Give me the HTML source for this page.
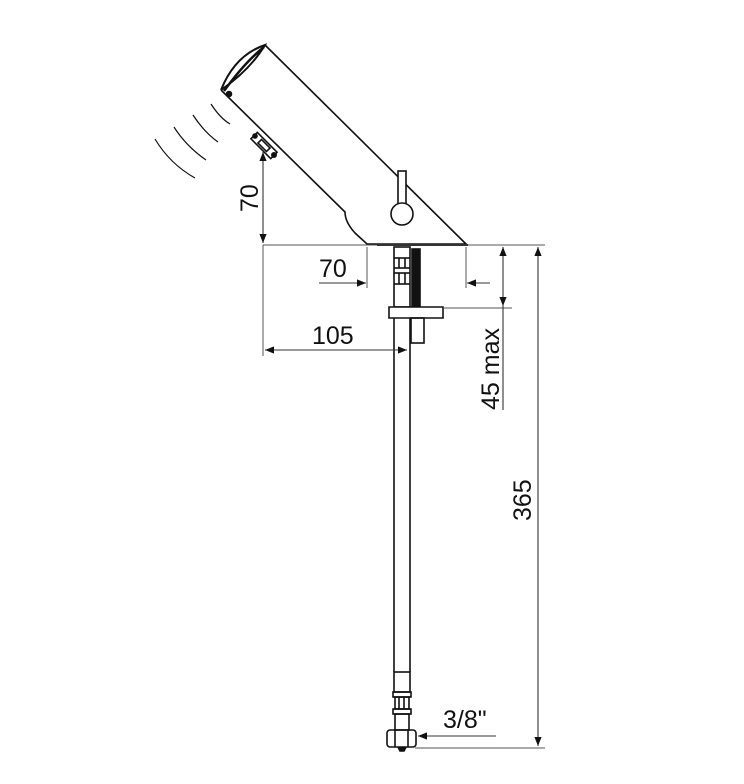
<!DOCTYPE html>
<html><head><meta charset="utf-8"><style>
html,body{margin:0;padding:0;background:#fff;}
svg{display:block;}
text{font-family:"Liberation Sans",sans-serif;font-size:25px;fill:#111;}
</style></head><body>
<svg width="744" height="784" viewBox="0 0 744 784" xmlns="http://www.w3.org/2000/svg">
<defs>
<marker id="a" viewBox="0 0 10 10" refX="10" refY="5" markerWidth="14" markerHeight="9" markerUnits="userSpaceOnUse" orient="auto-start-reverse"><path d="M0,1 L10,5 L0,9 z" fill="#111"/></marker>
</defs>
<g fill="none" stroke="#111" stroke-width="1.6">
<path d="M265,45 L466,244 L367,244 L355,233 Q345,222 345,212 L221,90"/>
<path d="M221,90 Q235,55 265,45 Q250,70 221,90" stroke-width="2"/>
<path d="M224,91 Q245,62 264,47" stroke-width="2.5"/>
<circle cx="229" cy="94" r="2.5" fill="#111"/>
<rect x="250" y="141" width="28" height="9" transform="rotate(45 264 145.5)" fill="#fff"/>
<rect x="258" y="143" width="12" height="5" transform="rotate(45 264 145.5)"/>
<circle cx="255" cy="136" r="2" fill="#111"/><circle cx="274" cy="155" r="2.2" fill="#111"/>
<path d="M211,104 Q220,118 230,124" stroke-width="1.2"/>
<path d="M193,115 Q204,132 218,142" stroke-width="1.2"/>
<path d="M174,127 Q186,146 206,160" stroke-width="1.2"/>
<path d="M155,139 Q170,164 195,178" stroke-width="1.2"/>
<rect x="398" y="171" width="8" height="34" fill="#fff"/>
<circle cx="402" cy="214" r="11" fill="#fff"/>
<line x1="377" y1="245" x2="468" y2="245" stroke-width="2"/>
<rect x="394" y="247" width="16" height="60"/>
<line x1="394" y1="258" x2="410" y2="258"/><line x1="394" y1="268" x2="410" y2="268"/>
<line x1="394" y1="273" x2="410" y2="273"/><line x1="394" y1="284" x2="410" y2="284"/>
<line x1="399" y1="258" x2="399" y2="268"/><line x1="405" y1="258" x2="405" y2="268"/>
<line x1="399" y1="273" x2="399" y2="284"/><line x1="405" y1="273" x2="405" y2="284"/>
<rect x="412" y="249" width="8" height="58" fill="#111"/>
<path d="M389,307 L443,307 L443,318 L389,318 Z" fill="#fff"/>
<rect x="411" y="318" width="13" height="25"/>
<line x1="394" y1="318" x2="394" y2="672"/><line x1="410" y1="318" x2="410" y2="672"/>
<rect x="394" y="672" width="16" height="20"/>
<rect x="393" y="692" width="18" height="5"/>
<rect x="395" y="697" width="14" height="12"/>
<line x1="399" y1="697" x2="399" y2="709"/><line x1="404" y1="697" x2="404" y2="709"/>
<rect x="393" y="709" width="18" height="5"/>
<rect x="395" y="714" width="14" height="16"/>
<rect x="387" y="730" width="29" height="17" rx="3"/>
<line x1="395" y1="730" x2="395" y2="747"/><line x1="408" y1="730" x2="408" y2="747"/>
<path d="M398,747 L400,751 L404,751 L406,747" fill="#111"/>
</g>
<g fill="none" stroke="#555" stroke-width="1">
<line x1="263" y1="245" x2="545" y2="245"/>
<line x1="263" y1="245" x2="263" y2="356"/>
<line x1="367" y1="247" x2="367" y2="288"/>
<line x1="466" y1="247" x2="466" y2="288"/>
<line x1="443" y1="308" x2="512" y2="308"/>
<line x1="415" y1="748" x2="545" y2="748"/>
</g>
<g fill="none" stroke="#333" stroke-width="1.1">
<line x1="263" y1="152" x2="263" y2="243" marker-start="url(#a)" marker-end="url(#a)"/>
<line x1="319" y1="283" x2="366" y2="283" marker-end="url(#a)"/>
<line x1="490" y1="283" x2="467" y2="283" marker-end="url(#a)"/>
<line x1="265" y1="350" x2="407" y2="350" marker-start="url(#a)" marker-end="url(#a)"/>
<line x1="503" y1="247" x2="503" y2="306" marker-start="url(#a)" marker-end="url(#a)"/>
<line x1="503" y1="306" x2="503" y2="410"/>
<line x1="538" y1="247" x2="538" y2="746" marker-start="url(#a)" marker-end="url(#a)"/>
<line x1="496" y1="736" x2="418" y2="736" marker-end="url(#a)"/>
</g>
<text x="319" y="277">70</text>
<text x="312" y="344">105</text>
<text x="443" y="728">3/8"</text>
<text transform="translate(258,212) rotate(-90)">70</text>
<text transform="translate(499,410) rotate(-90)">45 max</text>
<text transform="translate(531,521) rotate(-90)">365</text>
</svg>
</body></html>
